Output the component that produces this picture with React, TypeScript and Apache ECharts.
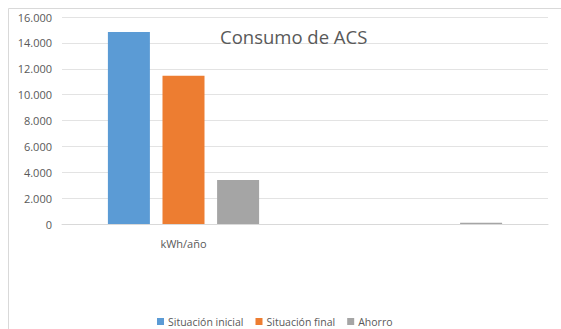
import React, { useEffect, useRef } from "react";
import * as echarts from "echarts";

const categories = ["kWh/año", ""];
const seriesNames = ["Situación inicial", "Situación final", "Ahorro"];
const situacionInicial = [14850, null];
const situacionFinal = [11450, null];
const ahorro = [3400, 100];
const colors = ["#5B9BD5", "#ED7D31", "#A5A5A5"];

const FONT = "'Open Sans', 'Noto Sans', sans-serif";

function fmt(v: number): string {
  return String(Math.round(v)).replace(/\B(?=(\d{3})+(?!\d))/g, ".");
}

export default function App() {
  const ref = useRef<HTMLDivElement>(null);

  useEffect(() => {
    if (!ref.current) return;
    const chart = echarts.init(ref.current, undefined, { renderer: "svg" });
    const values = [situacionInicial, situacionFinal, ahorro];
    chart.setOption({
      animation: false,
      backgroundColor: "#ffffff",
      textStyle: { fontFamily: FONT },
      graphic: [
        {
          type: "rect",
          shape: { x: 8.5, y: 8.5, width: 600, height: 400 },
          style: { fill: "none", stroke: "#d9d9d9", lineWidth: 1 },
          silent: true,
        },
      ],
      title: {
        text: "Consumo de ACS",
        left: 215,
        top: 22,
        textStyle: { fontFamily: FONT, fontSize: 18.5, fontWeight: "normal", color: "#595959" },
      },
      legend: {
        bottom: -3,
        left: 152,
        itemWidth: 7,
        itemHeight: 7,
        itemGap: 12,
        icon: "rect",
        textStyle: { fontFamily: FONT, fontSize: 10.5, color: "#595959", padding: [0, 0, 0, -1] },
        data: seriesNames,
      },
      grid: { left: 62, right: 13, top: 17, bottom: 105, containLabel: false },
      xAxis: {
        type: "category",
        data: categories,
        axisLine: { lineStyle: { color: "#d9d9d9" } },
        axisTick: { show: false },
        axisLabel: { fontFamily: FONT, fontSize: 11, color: "#595959", margin: 14 },
      },
      yAxis: {
        type: "value",
        min: 0,
        max: 16000,
        interval: 2000,
        axisLine: { show: false },
        axisTick: { show: false },
        splitLine: { lineStyle: { color: "#e3e3e3" } },
        axisLabel: {
          fontFamily: FONT,
          fontSize: 11,
          color: "#595959",
          margin: 10,
          formatter: (v: number) => fmt(v),
        },
      },
      series: seriesNames.map((name, i) => ({
        name,
        type: "bar",
        data: values[i],
        barWidth: 42,
        barGap: "30%",
        itemStyle: { color: colors[i] },
      })),
    });
    return () => chart.dispose();
  }, []);

  return (
    <div
      ref={ref}
      style={{ position: "fixed", left: 0, top: 0, width: 561, height: 329 }}
    />
  );
}
